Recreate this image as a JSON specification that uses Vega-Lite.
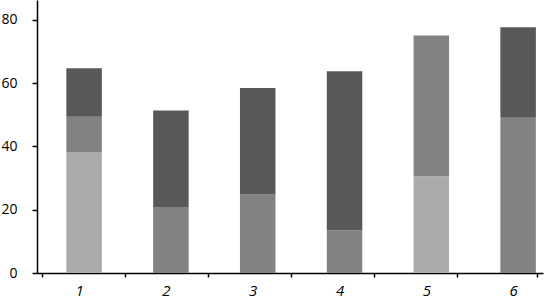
{
  "$schema": "https://vega.github.io/schema/vega-lite/v6.json",
  "width": 506,
  "height": 273,
  "autosize": {"type": "none"},
  "padding": {"left": 37, "top": 0, "right": 3, "bottom": 25},
  "background": "white",
  "config": {"view": {"stroke": null}},
  "data": {"values": [
    {"g": 1, "s": "A", "o": 1, "v": 38.1},
    {"g": 1, "s": "B", "o": 2, "v": 11.3},
    {"g": 1, "s": "C", "o": 3, "v": 15.3},
    {"g": 2, "s": "B", "o": 2, "v": 20.9},
    {"g": 2, "s": "C", "o": 3, "v": 30.5},
    {"g": 3, "s": "B", "o": 2, "v": 24.8},
    {"g": 3, "s": "C", "o": 3, "v": 33.7},
    {"g": 4, "s": "B", "o": 2, "v": 13.5},
    {"g": 4, "s": "C", "o": 3, "v": 50.3},
    {"g": 5, "s": "A", "o": 1, "v": 30.6},
    {"g": 5, "s": "B", "o": 2, "v": 44.5},
    {"g": 6, "s": "B", "o": 2, "v": 49.1},
    {"g": 6, "s": "C", "o": 3, "v": 28.6}
  ]},
  "resolve": {"axis": {"x": "independent"}},
  "encoding": {
    "y": {
      "field": "v", "type": "quantitative", "stack": "zero",
      "scale": {"domain": [0, 86.3], "nice": false},
      "axis": {
        "title": null, "grid": false, "values": [0, 20, 40, 60, 80],
        "domainColor": "black", "domainWidth": 1.5, "tickColor": "black", "tickWidth": 1.5, "tickSize": 5,
        "labelFont": "Open Sans", "labelFontSize": 14, "labelColor": "black", "labelPadding": 15
      }
    },
    "color": {
      "field": "s", "type": "nominal", "legend": null,
      "scale": {"domain": ["A", "B", "C"], "range": ["#aaaaaa", "#828282", "#585858"]}
    },
    "order": {"field": "o", "type": "quantitative"}
  },
  "layer": [
    {
      "mark": {"type": "bar", "width": 35.5},
      "encoding": {
        "x": {
          "field": "g", "type": "quantitative",
          "scale": {"domain": [0.515, 6.229], "nice": false, "zero": false},
          "axis": {
            "orient": "bottom", "title": null, "grid": false, "values": [1, 2, 3, 4, 5, 6],
            "ticks": false, "domain": false, "labelPadding": 10, "labelOffset": -5,
            "labelFont": "Open Sans", "labelFontSize": 15, "labelFontStyle": "italic", "labelColor": "black"
          }
        }
      }
    },
    {
      "mark": {"type": "bar", "width": 35.5, "opacity": 0},
      "encoding": {
        "x": {
          "field": "g", "type": "quantitative",
          "axis": {
            "orient": "bottom", "title": null, "grid": false,
            "values": [0.515, 1.471, 2.423, 3.38, 4.335, 5.291, 6.214],
            "labels": false, "ticks": true, "tickSize": 4, "tickColor": "black", "tickWidth": 1.5,
            "domain": true, "domainColor": "black", "domainWidth": 1.5
          }
        }
      }
    }
  ]
}
